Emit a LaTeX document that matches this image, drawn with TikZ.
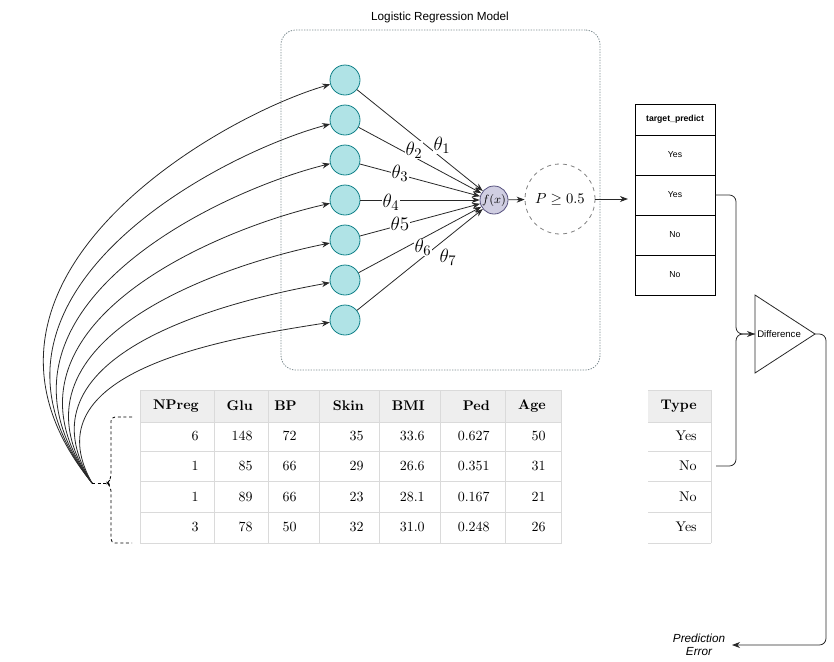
\documentclass[tikz,border=0pt]{standalone}
\usepackage{fontspec}
\setsansfont{Liberation Sans}
\usetikzlibrary{arrows.meta}
\definecolor{inpfill}{RGB}{176,227,230}
\definecolor{inpdraw}{RGB}{16,128,136}
\definecolor{fxfill}{RGB}{208,206,226}
\definecolor{fxdraw}{RGB}{86,81,126}
\definecolor{dark}{RGB}{40,40,40}
\definecolor{gridc}{RGB}{218,218,218}
\definecolor{hdrc}{RGB}{238,238,238}
\definecolor{boxc}{RGB}{120,135,140}
\begin{document}
\begin{tikzpicture}[x=0.75pt,y=-0.75pt,
  conn/.style={draw=dark,line width=0.6pt,-{Stealth[length=6pt,width=4.5pt]}},
  plain/.style={draw=dark,line width=0.6pt},
  inp/.style={circle,draw=inpdraw,fill=inpfill,line width=0.6pt,minimum size=22.5pt,inner sep=0pt},
  fxn/.style={circle,draw=fxdraw,fill=fxfill,line width=0.6pt,minimum size=21pt,inner sep=0pt,font=\fontsize{9}{10}\selectfont},
  pn/.style={circle,draw=gray,dashed,line width=0.6pt,minimum size=52.5pt,inner sep=0pt,font=\fontsize{11}{13}\selectfont},
  thl/.style={font=\fontsize{15}{17}\selectfont,fill=white,inner sep=0.3pt},
  tpc/.style={draw=black,line width=0.6pt,minimum width=60pt,minimum height=30pt,inner sep=0pt,font=\sffamily\fontsize{6.5}{8}\selectfont},
  gridl/.style={draw=gridc,line width=0.6pt},
  hdr/.style={anchor=east,inner sep=0pt,font=\fontsize{10.5}{12}\selectfont\bfseries},
  cellt/.style={anchor=east,inner sep=0pt,font=\fontsize{10.5}{12}\selectfont},
  brace/.style={draw=black,line width=0.6pt,dash pattern=on 2.2pt off 2pt}
]
\useasboundingbox (0,0) rectangle (834,661);

% title and model box
\node[font=\sffamily\fontsize{8.8}{10}\selectfont] (title) at (440,17) {Logistic Regression Model};
\node[draw=boxc,line width=0.6pt,dash pattern=on 1pt off 1pt,rounded corners=11pt,minimum width=239.25pt,minimum height=255pt,inner sep=0pt] (model) at (440.5,200) {};

% input neurons
\foreach \i/\yy in {1/80,2/120,3/160,4/200,5/240,6/280,7/320}
  \node[inp] (c\i) at (345,\yy) {};
\node[fxn] (fx) at (494,200) {$f(x)$};
\node[pn] (P) at (560,199) {$P \geq 0.5$};

\coordinate (src) at (92,483);

\foreach \i in {1,...,7}{
  \pgfmathsetmacro\ax{-162+100*(\i-1)/6}
  \pgfmathsetmacro\ay{-200+90*(\i-1)/6}
  \pgfmathsetmacro\by{38-18*(\i-1)/6}
  \draw[conn] (src) .. controls +(\ax,\ay) and +(-130,\by) .. (c\i);
  \draw[conn] (c\i) -- (fx);
}

\node[thl] (t1) at (442,145) {$\theta_1$};
\node[thl] (t2) at (414,150) {$\theta_2$};
\node[thl] (t3) at (400,173) {$\theta_3$};
\node[thl] (t4) at (391,202) {$\theta_4$};
\node[thl] (t5) at (400,224) {$\theta 5$};
\node[thl] (t6) at (423,247) {$\theta_6$};
\node[thl] (t7) at (448,257) {$\theta_7$};

\draw[conn] (fx) -- (P);

% target_predict table
\node[tpc,minimum height=23.25pt,font=\sffamily\bfseries\fontsize{6.5}{8}\selectfont] (tp0) at (675,119.5) {target\_predict};
\node[tpc] (tp1) at (675,155) {Yes};
\node[tpc] (tp2) at (675,195) {Yes};
\node[tpc] (tp3) at (675,235) {No};
\node[tpc] (tp4) at (675,275) {No};
\draw[conn,shorten >=5pt] (P) -- (P -| tp2.west);

% Difference
\coordinate (dL) at (755,334);
\coordinate (dR) at (815,334);
\draw[plain,line join=miter] (755,295) -- (dR) -- (755,373) -- cycle;
\node[anchor=west,inner sep=0pt,font=\sffamily\fontsize{7.2}{9}\selectfont] (dtxt) at (757,334) {Difference};

% big table
\fill[hdrc] (140,390) rectangle (561,422);
\draw[gridl] (140,390) rectangle (561,543);
\foreach \yy in {422,451,481,512} \draw[gridl] (140,\yy) -- (561,\yy);
\foreach \xx in {214,268,319,379,440,505} \draw[gridl] (\xx,390) -- (\xx,543);
\foreach \xx/\t [count=\k] in {199/NPreg,253/Glu,297/BP,364/Skin,425/BMI,490/Ped,546/Age}
  \node[hdr] (h\k) at (\xx,406) {\t};
\foreach \xx/\t [count=\k] in {199/6,253/148,297/72,364/35,425/33.6,490/0.627,546/50}
  \node[cellt] (ra\k) at (\xx,436) {\t};
\foreach \xx/\t [count=\k] in {199/1,253/85,297/66,364/29,425/26.6,490/0.351,546/31}
  \node[cellt] (rb\k) at (\xx,466) {\t};
\foreach \xx/\t [count=\k] in {199/1,253/89,297/66,364/23,425/28.1,490/0.167,546/21}
  \node[cellt] (rc\k) at (\xx,496.5) {\t};
\foreach \xx/\t [count=\k] in {199/3,253/78,297/50,364/32,425/31.0,490/0.248,546/26}
  \node[cellt] (rd\k) at (\xx,527) {\t};

% Type table
\fill[hdrc] (648,390) rectangle (711,422);
\foreach \yy in {390,422,451,481,512,543} \draw[gridl] (648,\yy) -- (711,\yy);
\draw[gridl] (711,390) -- (711,543);
\node[hdr] (ty0) at (697,406) {Type};
\node[cellt] (ty1) at (697,436) {Yes};
\node[cellt] (ty2) at (697,466) {No};
\node[cellt] (ty3) at (697,496.5) {No};
\node[cellt] (ty4) at (697,527) {Yes};
\coordinate (tyout) at (716,466);

% connectors to Difference
\draw[plain,rounded corners=5pt] (tyout) -- (736,466) |- (dL);
\draw[conn,rounded corners=5pt] (tp2.east) -- (736,195) |- (dL);

% prediction error
\node[font=\sffamily\itshape\fontsize{8.8}{9.8}\selectfont,align=center,inner sep=0pt] (pe) at (699,645) {Prediction\\Error};
\draw[conn,rounded corners=5pt] (dR) -- (826,334) |- ([xshift=5pt]pe.east);

% dashed brace
\draw[brace,rounded corners=3pt] (132,417) -- (111,417) -- (111,479) -- (107,483) -- (111,487) -- (111,543) -- (132,543);
\draw[brace] (src) -- (107,483);
\end{tikzpicture}
\end{document}
